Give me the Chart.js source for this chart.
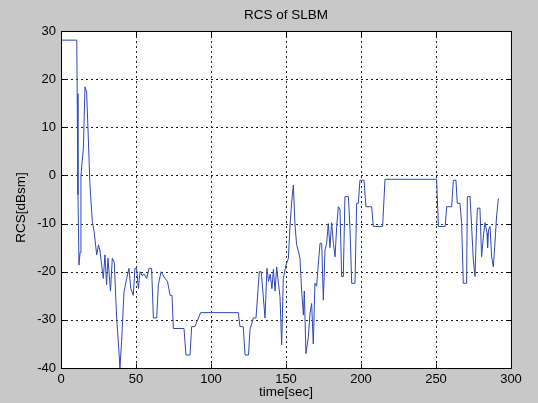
<!DOCTYPE html>
<html>
<head>
<meta charset="utf-8">
<script src="https://cdn.jsdelivr.net/npm/chart.js@4.4.1/dist/chart.umd.min.js"></script>
<style>
  html, body { margin: 0; padding: 0; background: #c8c8c8; }
  #wrap { width: 538px; height: 403px; position: relative; }
</style>
</head>
<body>
<div id="wrap"><canvas id="rcsChart" width="538" height="403"></canvas></div>
<script>
// RCS of SLBM - du lieu doc tu hinh
const timeSec = [
  0, 10.5, 10.8, 11.3, 12, 12.7, 13.3, 14.9, 16, 17.1, 18.2, 19.3, 20.9, 22.1, 23.8, 25, 26, 27.1, 28.2, 29.3,
  30.4, 31.3, 32, 33, 34.2, 35.5, 37.1, 38.5, 39.3, 40.4, 42, 43.8, 45.3, 46.5, 48.2, 49.3, 50.4, 51.6, 52.7, 54,
  55.5, 57.1, 58.7, 60.4, 61.6, 63.8, 64.9, 66.7, 69.3, 71, 72.7, 74, 74.9, 79.3, 82, 83.3, 86, 87.1, 89.3, 93.1,
  118.2, 119.3, 121.5, 122.7, 125, 126, 128.2, 130, 132.2, 133.5, 136, 137.3, 138.4, 139.5, 140.6, 141.6, 142.7, 143.8, 145, 146,
  147.1, 148.2, 150, 151.6, 152.7, 153.8, 154.9, 156, 157.1, 158.2, 159.3, 160.4, 161.6, 162.2, 163.3, 164.9, 166, 167.1, 168.2, 169.3,
  170.4, 171.6, 172.7, 173.8, 174.9, 176, 177.1, 178.2, 179.3, 180.4, 181.6, 182.7, 183.8, 184.9, 186, 187.1, 188.2, 189.3, 191.6, 192.7,
  193.8, 196, 197.1, 198.2, 199.3, 202, 203.3, 207.1, 208.2, 214.4, 216, 250.4, 251.6, 256.1, 257.1, 260.4, 261.6, 263.3, 264.2, 266,
  267.1, 268.2, 270.4, 270.9, 272.7, 274.9, 276, 276.9, 277.6, 279.3, 280.4, 281.8, 282.7, 284, 284.4, 285, 286, 287.1, 288.2, 289.3,
  290.4, 291.6
];
const rcsDbsm = [
  28.1, 28.1, 17, -4, -18.6, -16, 0, 5.6, 18.4, 17.3, 7.8, -2, -9.6, -11.7, -16.5, -14.4, -15.7, -18.6, -21.4, -16.5,
  -22.7, -17.2, -20, -24, -17.2, -18, -29.6, -36, -40, -34.5, -24.2, -21.4, -19.3, -23.5, -24.9, -19.3, -19.3, -23.5, -20, -20.8,
  -20.5, -21.4, -19.3, -19.3, -29.6, -29.6, -22.7, -20, -21.4, -22, -24.9, -24.9, -31.8, -31.8, -31.8, -37.3, -37.3, -31.4, -31.4, -28.5,
  -28.5, -31.4, -31.4, -37.3, -37.3, -32, -29.6, -29.6, -20, -20, -29.6, -19.3, -22, -20.5, -23.5, -19.5, -24, -19, -22.5, -25.2,
  -35.2, -21.4, -18.6, -17.2, -10.3, -5.5, -2, -10.3, -14.4, -15.7, -17.2, -23.8, -29, -24, -37, -33.5, -28.6, -26.6, -35, -22.4,
  -23, -18.2, -14.1, -14.1, -25.9, -15.5, -14.1, -10, -15, -9.8, -14.1, -16.9, -10.6, -6.5, -7, -21, -21, -4.4, -4.4, -11.3,
  -22.4, -22.4, -5.8, -5.8, -1, -1, -6.5, -6.5, -10.6, -10.6, -0.8, -0.8, -10.6, -10.6, -6.5, -6.5, -1, -1, -5.8, -5.8,
  -10, -22.4, -22.4, -4.4, -4.4, -17.6, -21, -12, -6.8, -6.8, -16.9, -12, -9.8, -12, -15, -11.3, -10.6, -16.9, -19, -14.1,
  -8.4, -4.8
];
const xTicks = [0, 50, 100, 150, 200, 250, 300];
const yTicks = [-40, -30, -20, -10, 0, 10, 20, 30];

const FONT = '"Liberation Sans", Arial, sans-serif';

// Ve nen trang, luoi net dut, khung va vach chia kieu MATLAB
const matlabFrame = {
  id: 'matlabFrame',
  beforeDraw(chart) {
    const { ctx, chartArea: a } = chart;
    ctx.save();
    ctx.fillStyle = '#c8c8c8';
    ctx.fillRect(0, 0, chart.width, chart.height);
    ctx.fillStyle = '#ffffff';
    ctx.fillRect(a.left, a.top, a.right - a.left, a.bottom - a.top);
    ctx.restore();
  },
  beforeDatasetsDraw(chart) {
    const { ctx, chartArea: a, scales } = chart;
    ctx.save();
    ctx.strokeStyle = '#222222';
    ctx.lineWidth = 1;
    ctx.setLineDash([2, 3]);
    xTicks.slice(1, -1).forEach(v => {
      const x = Math.round(scales.x.getPixelForValue(v)) + 0.5;
      ctx.beginPath(); ctx.moveTo(x, a.top); ctx.lineTo(x, a.bottom); ctx.stroke();
    });
    yTicks.slice(1, -1).forEach(v => {
      const y = Math.round(scales.y.getPixelForValue(v)) + 0.5;
      ctx.beginPath(); ctx.moveTo(a.left, y); ctx.lineTo(a.right, y); ctx.stroke();
    });
    ctx.restore();
  },
  afterDatasetsDraw(chart) {
    const { ctx, chartArea: a, scales } = chart;
    ctx.save();
    ctx.strokeStyle = '#000000';
    ctx.lineWidth = 1;
    ctx.setLineDash([]);
    const L = Math.round(a.left) + 0.5, R = Math.round(a.right) + 0.5;
    const T = Math.round(a.top) + 0.5, B = Math.round(a.bottom) + 0.5;
    ctx.strokeRect(L, T, R - L, B - T);
    const tick = 5;
    ctx.beginPath();
    xTicks.forEach(v => {
      const x = Math.round(scales.x.getPixelForValue(v)) + 0.5;
      ctx.moveTo(x, B); ctx.lineTo(x, B - tick);
      ctx.moveTo(x, T); ctx.lineTo(x, T + tick);
    });
    yTicks.forEach(v => {
      const y = Math.round(scales.y.getPixelForValue(v)) + 0.5;
      ctx.moveTo(L, y); ctx.lineTo(L + tick, y);
      ctx.moveTo(R, y); ctx.lineTo(R - tick, y);
    });
    ctx.stroke();

    // tieu de va nhan truc
    ctx.fillStyle = '#000000';
    ctx.font = '13.5px ' + FONT;
    ctx.textAlign = 'center';
    ctx.textBaseline = 'middle';
    ctx.fillText('RCS of SLBM', (a.left + a.right) / 2, 15);
    ctx.fillText('time[sec]', (a.left + a.right) / 2, 392);
    ctx.translate(21, (a.top + a.bottom) / 2 + 8);
    ctx.rotate(-Math.PI / 2);
    ctx.fillText('RCS[dBsm]', 0, 0);
    ctx.restore();
  }
};

new Chart(document.getElementById('rcsChart'), {
  type: 'line',
  data: {
    datasets: [{
      data: timeSec.map((t, i) => ({ x: t, y: rcsDbsm[i] })),
      borderColor: '#2d48b8',
      borderWidth: 1,
      pointRadius: 0,
      tension: 0,
      fill: false
    }]
  },
  options: {
    responsive: false,
    animation: false,
    devicePixelRatio: 1,
    layout: { padding: { left: 0, right: 27, top: 31, bottom: 0 } },
    plugins: { legend: { display: false }, tooltip: { enabled: false } },
    scales: {
      x: {
        type: 'linear',
        min: 0,
        max: 300,
        afterFit(scale) { scale.height = 35; },
        afterBuildTicks(scale) { scale.ticks = xTicks.map(v => ({ value: v })); },
        grid: { display: false, drawTicks: false },
        border: { display: false },
        ticks: { color: '#000', font: { family: FONT, size: 13 }, padding: 4, maxRotation: 0 }
      },
      y: {
        type: 'linear',
        min: -40,
        max: 30,
        afterFit(scale) { scale.width = 61; },
        afterBuildTicks(scale) { scale.ticks = yTicks.map(v => ({ value: v })); },
        grid: { display: false, drawTicks: false },
        border: { display: false },
        ticks: { color: '#000', font: { family: FONT, size: 13 }, padding: 5 }
      }
    }
  },
  plugins: [matlabFrame]
});
</script>
</body>
</html>
